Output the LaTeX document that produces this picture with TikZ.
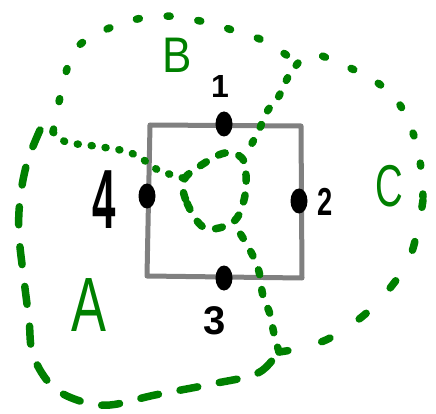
\documentclass[tikz,border=0pt]{standalone}
\usepackage{fontspec}
\setmainfont{Liberation Sans}
\usepackage{graphicx}
\usetikzlibrary{shapes.geometric}

\begin{document}
\begin{tikzpicture}[x=1pt, y=-1pt, line cap=round, line join=round,
  box/.style={gray, line width=5pt},
  pin/.style={ellipse, fill=black, inner sep=0pt, minimum width=17pt, minimum height=25pt},
  num/.style={inner sep=0pt},
  region/.style={inner sep=0pt, text=green!50!black},
  rim/.style={green!50!black, line width=7.5pt},
  longdash/.style={rim, dash pattern=on 18pt off 22pt},
  middash/.style={rim, dash pattern=on 9pt off 35pt},
  shortdash/.style={rim, dash pattern=on 7pt off 14pt},
  dots/.style={rim, dash pattern=on 1pt off 13pt},
  sparsedots/.style={rim, dash pattern=on 3pt off 28pt}]
  \useasboundingbox (0,0) rectangle (436,414);
  \draw[box] (150,125) -- (301,126) -- (302,278) -- (147,276) -- cycle;
  \node[pin] (p1) at (224,124) {};
  \node[pin] (p2) at (299,201) {};
  \node[pin] (p3) at (224,278) {};
  \node[pin] (p4) at (147,196) {};
  \node[num, font=\bfseries\fontsize{32}{32}\selectfont] (l1) at (220,86) {1};
  \node[num, font=\bfseries\fontsize{39}{39}\selectfont] (l2) at (325,202) {\scalebox{0.7}[1]{2}};
  \node[num, font=\bfseries\fontsize{40}{40}\selectfont] (l3) at (215,321) {3};
  \node[num, font=\bfseries\fontsize{84}{84}\selectfont] (l4) at (104,200) {\scalebox{0.5}[1]{4}};
  \node[region, font=\fontsize{77}{77}\selectfont] (la) at (89,305) {\scalebox{0.68}[1]{A}};
  \node[region, font=\fontsize{50}{50}\selectfont] (lb) at (177,55) {\scalebox{0.88}[1]{B}};
  \node[region, font=\fontsize{59}{59}\selectfont] (lc) at (389,186) {\scalebox{0.65}[1]{C}};
  \draw[longdash] plot[smooth, tension=0.6] coordinates {(40,130) (27,163) (20,200) (19,235) (24,280) (29,320) (33,355) (52,386) (80,401) (110,405) (155,395) (212,384) (258,373) (278,352)};
  \draw[middash] plot[smooth, tension=0.6] coordinates {(279,352) (300,348) (332,337) (372,308) (405,267) (417,233) (423,200)};
  \draw[sparsedots] plot[smooth, tension=0.6] coordinates {(423,197) (418,150) (400,105) (370,78) (315,53)};
  \draw[sparsedots] plot[smooth, tension=0.6] coordinates {(53,132) (64,80) (75,50) (97,34) (129,21) (165,16) (205,22) (235,31) (264,41) (298,63)};
  \draw[rim, dash pattern=on 3pt off 15pt] plot[smooth, tension=0.6] coordinates {(298,63) (288,77) (279,96) (268,110) (258,132) (245,156)};
  \draw[rim, dash pattern=on 5pt off 15pt] plot[smooth, tension=0.6] coordinates {(279,352) (274,334) (270,314) (263,296) (258,268) (246,243) (233,223)};
  \draw[dots] plot[smooth, tension=0.6] coordinates {(53,132) (66,142) (87,145) (101,147) (115,149) (128,152) (141,158) (158,170) (183,178)};
  \draw[shortdash] plot[smooth cycle, tension=0.6] coordinates {(184,180) (187,203) (205,228) (233,222) (244,200) (246,175) (242,158) (225,153) (203,164)};
\end{tikzpicture}
\end{document}
